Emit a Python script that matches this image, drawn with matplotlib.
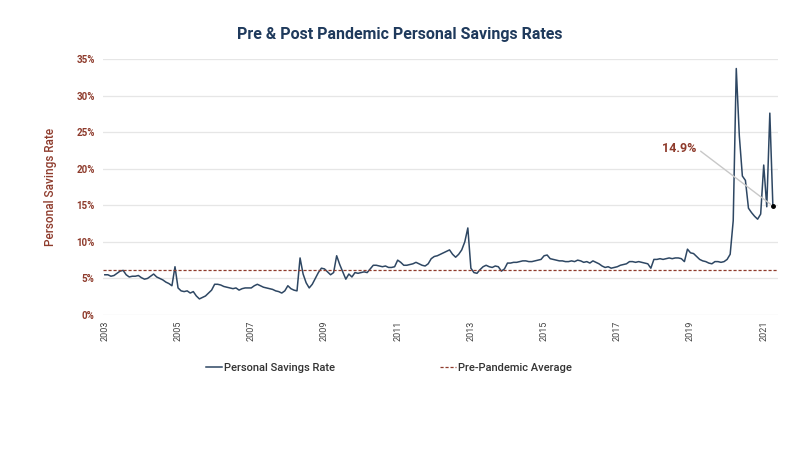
import matplotlib
matplotlib.use("Agg")
import matplotlib.pyplot as plt
import numpy as np

# Monthly personal savings rate (%), Jan 2003 - Apr 2021
years = list(range(2003, 2022))
rate_by_year = {
    2003: [5.5, 5.5, 5.3, 5.4, 5.7, 6.0, 6.1, 5.5, 5.2, 5.3, 5.3, 5.4],
    2004: [5.1, 4.9, 5.0, 5.3, 5.6, 5.2, 5.0, 4.8, 4.5, 4.3, 4.0, 6.6],
    2005: [3.7, 3.3, 3.2, 3.3, 3.0, 3.2, 2.6, 2.2, 2.4, 2.6, 3.0, 3.4],
    2006: [4.2, 4.2, 4.1, 3.9, 3.8, 3.7, 3.6, 3.7, 3.4, 3.6, 3.7, 3.7],
    2007: [3.7, 4.0, 4.2, 4.0, 3.8, 3.7, 3.6, 3.5, 3.3, 3.2, 3.0, 3.3],
    2008: [4.0, 3.6, 3.4, 3.3, 7.8, 5.6, 4.4, 3.7, 4.2, 5.0, 5.8, 6.4],
    2009: [6.3, 5.9, 5.5, 5.8, 8.1, 6.9, 5.9, 4.9, 5.6, 5.2, 5.8, 5.7],
    2010: [5.8, 5.9, 5.8, 6.3, 6.8, 6.8, 6.7, 6.6, 6.7, 6.5, 6.5, 6.6],
    2011: [7.5, 7.2, 6.8, 6.8, 6.9, 7.0, 7.2, 7.0, 6.8, 6.7, 7.0, 7.7],
    2012: [8.0, 8.1, 8.3, 8.5, 8.7, 8.9, 8.3, 7.9, 8.3, 8.9, 10.0, 11.9],
    2013: [6.4, 5.8, 5.7, 6.2, 6.6, 6.8, 6.6, 6.5, 6.7, 6.6, 6.0, 6.3],
    2014: [7.1, 7.1, 7.2, 7.2, 7.3, 7.4, 7.4, 7.3, 7.3, 7.4, 7.5, 7.6],
    2015: [8.1, 8.2, 7.7, 7.6, 7.5, 7.4, 7.4, 7.3, 7.3, 7.4, 7.3, 7.5],
    2016: [7.4, 7.2, 7.3, 7.1, 7.4, 7.2, 7.0, 6.7, 6.5, 6.6, 6.4, 6.5],
    2017: [6.6, 6.8, 6.9, 7.0, 7.3, 7.3, 7.2, 7.3, 7.2, 7.1, 7.0, 6.4],
    2018: [7.6, 7.6, 7.7, 7.6, 7.7, 7.8, 7.7, 7.8, 7.8, 7.7, 7.3, 9.0],
    2019: [8.5, 8.4, 8.0, 7.6, 7.4, 7.3, 7.1, 7.0, 7.3, 7.3, 7.2, 7.3],
    2020: [7.6, 8.3, 12.9, 33.7, 24.5, 19.0, 18.4, 14.6, 14.0, 13.5, 13.1, 13.8],
    2021: [20.5, 14.8, 27.6, 14.9],
}
pre_pandemic_avg = 6.15
last_label = "14.9%"

y_ticks = [0, 5, 10, 15, 20, 25, 30, 35]
x_ticks = list(range(2003, 2022, 2))

dates, rates = [], []
for yr in years:
    for i, v in enumerate(rate_by_year[yr]):
        dates.append(yr + i / 12.0)
        rates.append(v)
dates = np.array(dates)
rates = np.array(rates)

navy = "#1f3a5c"
line_col = "#2e4763"
brown = "#8e3b2c"

plt.rcParams['font.family'] = ['Roboto', 'DejaVu Sans']

fig = plt.figure(figsize=(8, 4.5), dpi=100)
ax = fig.add_axes([103 / 800, 1 - 315 / 450, 675 / 800, 256 / 450])

l1, = ax.plot(dates, rates, color=line_col, lw=1.1, label="Personal Savings Rate")
l2 = ax.axhline(pre_pandemic_avg, color=brown, lw=0.9, ls=(0, (2.5, 1.5)),
                label="Pre-Pandemic Average")
ax.plot(dates[-1], rates[-1], 'o', color='black', ms=2.5, zorder=5)

ax.annotate(last_label, xy=(dates[-1], rates[-1]), xytext=(2019.17, 22.8),
            ha='right', va='center', color=brown, fontsize=9, fontweight='bold',
            arrowprops=dict(arrowstyle='-', color='#c8c8c8', lw=1.0,
                            shrinkA=1, shrinkB=2, relpos=(1.0, 0.5)))

ax.set_xlim(2002.95, 2021.39)
ax.set_ylim(0, 35)
ax.set_yticks(y_ticks)
ax.set_yticklabels([f"{t}%" for t in y_ticks], color=brown, fontsize=7,
                   fontweight='bold')
ax.set_xticks(x_ticks)
ax.set_xticklabels([str(t) for t in x_ticks], rotation=90, fontsize=6.5,
                   color='#444444')
ax.tick_params(axis='both', length=0, pad=6)
ax.tick_params(axis='x', pad=4)
ax.grid(axis='y', color='#e6e6e6', lw=0.9)
ax.set_axisbelow(True)
for s in ax.spines.values():
    s.set_visible(False)

ax.set_ylabel("Personal Savings Rate", color=brown, fontsize=8.5,
              fontweight='medium')
ax.yaxis.set_label_coords(-46 / 675, 0.5)

fig.text(400 / 800, 1 - 35 / 450, "Pre & Post Pandemic Personal Savings Rates",
         ha='center', va='center', fontsize=11.5, fontweight='bold', color=navy)

fig.legend(handles=[l1, l2], loc='center', bbox_to_anchor=(389 / 800, 1 - 368 / 450),
           ncol=2, frameon=False, prop={'size': 8, 'weight': 'medium'},
           handlelength=1.4, handletextpad=0.2,
           columnspacing=9.5, labelcolor='#333333')

fig.savefig("out.png", dpi=100)
